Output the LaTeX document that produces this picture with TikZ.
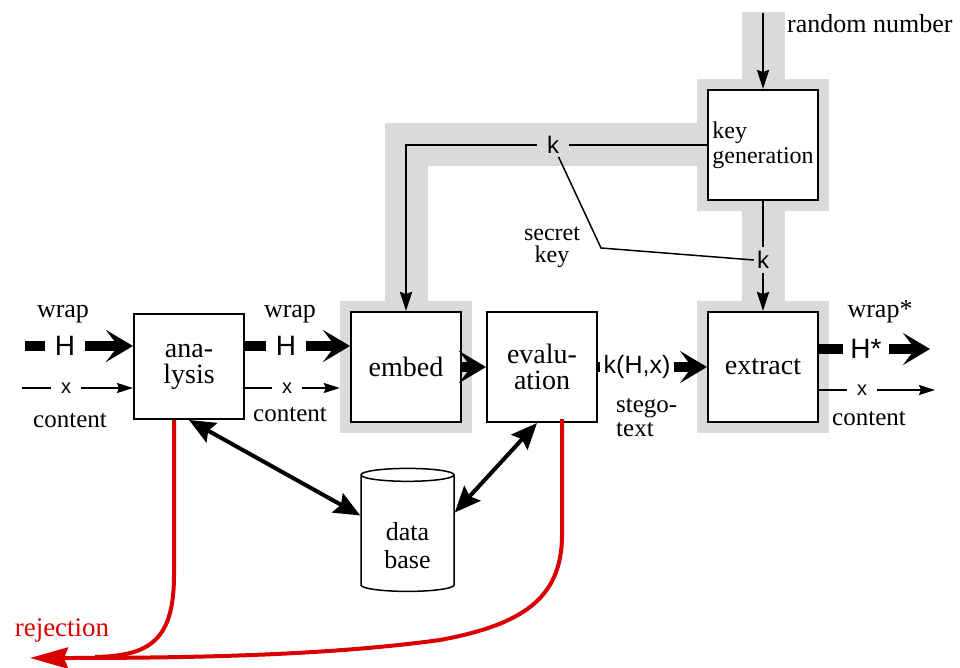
\documentclass[tikz,border=0pt]{standalone}
\usepackage{fontspec}
\setmainfont{Liberation Serif}
\newfontfamily\sigfont{Liberation Sans}
\usetikzlibrary{arrows.meta,shapes.geometric,positioning,fit,backgrounds}
\definecolor{bandgray}{RGB}{217,218,220}
\definecolor{rejred}{RGB}{218,0,0}

\begin{document}
\begin{tikzpicture}[x=1pt,y=-1pt,
    block/.style={draw,line width=2pt,fill=white,minimum width=110pt,minimum height=110pt,inner sep=0pt,align=center,font=\fontsize{28}{26}\selectfont},
    lbl/.style={inner sep=0pt,align=center,font=\fontsize{25}{24}\selectfont},
    wraplbl/.style={inner sep=0pt,anchor=base,font=\fontsize{26}{26}\selectfont},
    sym/.style={inner sep=0pt,inner xsep=10pt,font=\sigfont\fontsize{28}{28}\selectfont},
    symx/.style={inner sep=0pt,inner xsep=10pt,font=\sigfont\fontsize{20}{20}\selectfont},
    symk/.style={inner xsep=10pt,inner ysep=3pt,font=\sigfont\fontsize{24}{24}\selectfont},
    band/.style={line width=43pt,draw=bandgray,line join=miter},
    bandbox/.style={fill=bandgray,inner sep=10pt},
    wide/.style={line width=10pt},
    widearrow/.style={line width=10pt,-{Stealth[length=27pt,width=32pt,inset=12pt]}},
    plain/.style={line width=2pt},
    plainarrow/.style={line width=2pt,-{Stealth[length=16pt,width=10pt,inset=2pt]}},
    keyarrow/.style={line width=2.5pt,-{Stealth[length=19pt,width=12pt,inset=2pt]}},
    dbarrow/.style={line width=4pt,{Stealth[length=26pt,width=22pt,inset=4pt]}-{Stealth[length=26pt,width=22pt,inset=4pt]}},
    rej/.style={line width=4pt,draw=rejred}]
\useasboundingbox (0,0) rectangle (960,668);

% blocks
\node[block,minimum height=105pt] (analysis) at (189,366.5) {ana-\\lysis};
\node[block] (embed) at (406,367) {embed};
\node[block] (eval) at (542,367) {evalu-\\ation};
\node[block] (extract) at (763,367) {extract};
\node[block,align=left,font=\fontsize{24}{25}\selectfont] (keygen) at (763,145) {key\\generation};
\node[cylinder,shape border rotate=90,draw,line width=1.5pt,minimum width=93pt,minimum height=123pt,aspect=0.28,inner sep=0pt,font=\fontsize{26}{28}\selectfont] (db) at (407.5,533.5)
  {\raisebox{-15pt}[\height][\depth]{\begin{tabular}{@{}c@{}}data\\base\end{tabular}}};

% signals
\node[sym] (Hin) at (65,346) {H};
\node[sym] (Hmid) at (286,346) {H};
\node[sym,inner xsep=7pt] (Hout) at (866,349) {H*};
\node[symx] (xin) at (66,388) {x};
\node[symx] (xmid) at (287,388) {x};
\node[symx] (xout) at (862,390) {x};
\node[sym,inner xsep=3pt,font=\sigfont\fontsize{25}{25}\selectfont] (kH) at (637,367) {k(H,x)};
\node[symk] (k1) at (553,145) {k};
\node[symk,inner xsep=3pt,inner ysep=4pt] (k2) at (763,260) {k};
\coordinate (rnd) at (763,13);
\coordinate (inH) at (25,346);
\coordinate (inx) at (22,388);
\coordinate (outH) at (930,349);
\coordinate (outx) at (935,390);
\coordinate (bend) at (601,248);
\coordinate (rejtip) at (30,658);

% texts
\node[wraplbl] (wrapin) at (63,317) {wrap};
\node[wraplbl] (wrapmid) at (290,317) {wrap};
\node[wraplbl] (wrapout) at (880,317) {wrap*};
\node[lbl,anchor=base] (contin) at (70,427) {content};
\node[lbl,anchor=base] (contmid) at (290,421) {content};
\node[lbl,anchor=base] (contout) at (869,425) {content};
\node[wraplbl,anchor=base west] (rndlbl) at (787,33) {random number};
\node[lbl,font=\fontsize{24}{22}\selectfont] (secret) at (552,247) {secret\\key};
\node[lbl,align=left,anchor=west] (stego) at (616,418) {stego-\\text};
\node[lbl,anchor=base,text=rejred,font=\fontsize{27}{27}\selectfont] (rejlbl) at (62,636) {rejection};

% grey bands
\begin{scope}[on background layer]
  \node[bandbox,fit=(embed)] (embedband) {};
  \node[bandbox,fit=(extract)] (extractband) {};
  \node[bandbox,fit=(keygen)] (keyband) {};
  \draw[band] ([yshift=1pt]rnd) -- (keygen.north);
  \draw[band] (keygen.west |- k1) -| (embed.north);
  \draw[band] (keygen.south) -- (extract.north);
\end{scope}

% wrap and content flow
\draw[wide] (inH) -- (Hin);
\draw[widearrow] (Hin) -- (Hin -| analysis.west);
\draw[plain] (inx) -- (xin);
\draw[plainarrow] (xin) -- (xin -| analysis.west);
\draw[wide] (analysis.east |- Hmid) -- (Hmid);
\draw[widearrow] (Hmid) -- (Hmid -| embed.west);
\draw[plain] (analysis.east |- xmid) -- (xmid);
\draw[plainarrow] (xmid) -- (xmid -| embedband.west);
\draw[widearrow] (embed.east) -- (eval.west);
\draw[wide] (eval.east |- kH) -- (kH);
\draw[widearrow] (kH) -- (kH -| extract.west);
\draw[wide] (extract.east |- Hout) -- (Hout);
\draw[widearrow] (Hout) -- (outH);
\draw[plain] (extract.east |- xout) -- (xout);
\draw[plainarrow] (xout) -- (outx);

% key paths
\draw[keyarrow] (rnd) -- (keygen.north);
\draw[plain] (keygen.west |- k1) -- (k1);
\draw[keyarrow] (k1) -| (embed.north);
\draw[plain] (keygen.south) -- (k2.north);
\draw[keyarrow] (k2.south) -- (extract.north);
\draw[line width=1.5pt] (k1) -- (bend) -- (k2.west);

% data base
\draw[dbarrow] (analysis.south) -- ([yshift=18pt]db.west);
\draw[dbarrow] ([xshift=-5pt]eval.south) -- ([yshift=21pt]db.east);

% rejection
\draw[rej] ([xshift=-15pt]analysis.south) -- (174,575) .. controls (174,640) and (150,656) .. (95,657);
\draw[rej,-{Stealth[length=38pt,width=21pt,inset=4pt]}] ([xshift=20pt,yshift=4pt]eval.south) -- (562,535) .. controls (562,600) and (520,625) .. (440,640) .. controls (330,655) and (200,658) .. (rejtip);
\end{tikzpicture}
\end{document}
